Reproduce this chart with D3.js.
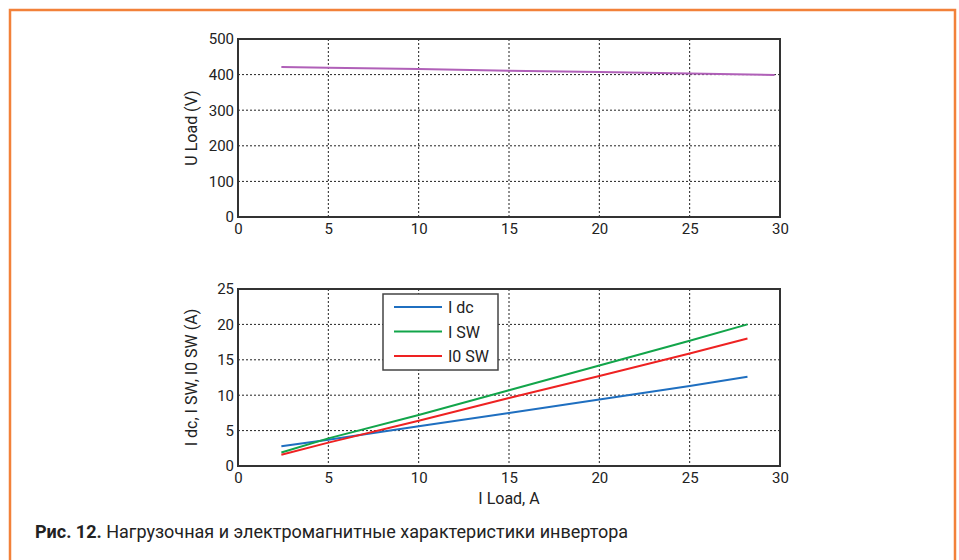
<!DOCTYPE html>
<html>
<head>
<meta charset="utf-8">
<script src="https://cdn.jsdelivr.net/npm/d3@7"></script>
<style>
  body { margin: 0; background: #fff; }
  text { font-family: "Liberation Sans Narrow", "Roboto", "Liberation Sans", sans-serif; }
</style>
</head>
<body>
<script>
// load current, A
var iLoadU = [2.4, 5, 10, 15, 20, 25, 29.7];
var uLoad = [421, 419, 416, 411, 407, 403, 399];

var iLoad = [2.4, 5, 10, 15, 20, 25, 28.2];
var iDc = [2.8, 3.7, 5.6, 7.5, 9.4, 11.3, 12.6];
var iSw = [1.9, 3.9, 7.2, 10.7, 14.2, 17.7, 20.0];
var i0Sw = [1.6, 3.3, 6.4, 9.6, 12.7, 15.9, 18.0];

var seriesNames = ["I dc", "I SW", "I0 SW"];
var seriesColors = ["#1f6fc0", "#12a54a", "#ee2222"];

var xTicks = [0, 5, 10, 15, 20, 25, 30];
var uTicks = [0, 100, 200, 300, 400, 500];
var iTicks = [0, 5, 10, 15, 20, 25];

var width = 959, height = 560;

var svg = d3.select("body").append("svg")
    .attr("width", width)
    .attr("height", height);

// orange frame
svg.append("path")
    .attr("d", "M10,560 V10 H955 V560")
    .attr("fill", "none")
    .attr("stroke", "#f2813a")
    .attr("stroke-width", 2.5);

var x = d3.scaleLinear().domain([0, 30]).range([238, 780]);

function panel(top, bottom, yDomain, yTicks, yLabel) {
    var y = d3.scaleLinear().domain(yDomain).range([bottom, top]);
    var g = svg.append("g");

    // grid
    g.selectAll(".vg").data(xTicks.slice(1, -1)).enter().append("line")
        .attr("x1", d => x(d)).attr("x2", d => x(d))
        .attr("y1", top).attr("y2", bottom)
        .attr("stroke", "#222").attr("stroke-width", 1)
        .attr("stroke-dasharray", "2,2");
    g.selectAll(".hg").data(yTicks.slice(1, -1)).enter().append("line")
        .attr("x1", x(0)).attr("x2", x(30))
        .attr("y1", d => y(d)).attr("y2", d => y(d))
        .attr("stroke", "#222").attr("stroke-width", 1)
        .attr("stroke-dasharray", "2,2");

    // axes
    var xa = g.append("g")
        .attr("transform", "translate(0," + bottom + ")")
        .call(d3.axisBottom(x).tickValues(xTicks).tickSize(0).tickPadding(6));
    var ya = g.append("g")
        .attr("transform", "translate(" + x(0) + ",0)")
        .call(d3.axisLeft(y).tickValues(yTicks).tickSize(0).tickPadding(4));
    [xa, ya].forEach(function(a) {
        a.select(".domain").remove();
        a.selectAll("text").attr("font-size", 15).attr("fill", "#222")
            .attr("font-family", "'Liberation Sans Narrow', 'Roboto', sans-serif");
    });

    g.append("rect")
        .attr("x", x(0)).attr("y", top)
        .attr("width", x(30) - x(0)).attr("height", bottom - top)
        .attr("fill", "none").attr("stroke", "#333").attr("stroke-width", 2);

    g.append("text")
        .attr("transform", "translate(197," + (top + bottom) / 2 + ") rotate(-90)")
        .attr("text-anchor", "middle")
        .attr("font-size", 16).attr("fill", "#222")
        .text(yLabel);

    return y;
}

var yU = panel(39, 217, [0, 500], uTicks, "U Load (V)");
var yI = panel(289, 466, [0, 25], iTicks, "I dc, I SW, I0 SW (A)");

svg.append("path")
    .datum(d3.zip(iLoadU, uLoad))
    .attr("fill", "none")
    .attr("stroke", "#b060b8")
    .attr("stroke-width", 2)
    .attr("d", d3.line().x(d => x(d[0])).y(d => yU(d[1])));

var series = [iDc, iSw, i0Sw];
series.forEach(function(vals, k) {
    svg.append("path")
        .datum(d3.zip(iLoad, vals))
        .attr("fill", "none")
        .attr("stroke", seriesColors[k])
        .attr("stroke-width", 2)
        .attr("d", d3.line().x(d => x(d[0])).y(d => yI(d[1])));
});

// legend
var lg = svg.append("g").attr("transform", "translate(383,294)");
lg.append("rect")
    .attr("width", 115).attr("height", 76)
    .attr("fill", "#fff").attr("stroke", "#444").attr("stroke-width", 1.5);
seriesNames.forEach(function(name, k) {
    var yy = 13 + k * 24.5;
    lg.append("line")
        .attr("x1", 11).attr("x2", 59)
        .attr("y1", yy).attr("y2", yy)
        .attr("stroke", seriesColors[k]).attr("stroke-width", 2);
    lg.append("text")
        .attr("x", 65).attr("y", yy + 6)
        .attr("font-size", 16).attr("fill", "#222")
        .text(name);
});

svg.append("text")
    .attr("x", x(15)).attr("y", 504)
    .attr("text-anchor", "middle")
    .attr("font-size", 16).attr("fill", "#222")
    .text("I Load, A");

var cap = svg.append("text")
    .attr("x", 35).attr("y", 538)
    .attr("font-size", 18).attr("fill", "#222");
cap.append("tspan").attr("font-weight", "bold").text("Рис. 12.");
cap.append("tspan").text(" Нагрузочная и электромагнитные характеристики инвертора");
</script>
</body>
</html>
